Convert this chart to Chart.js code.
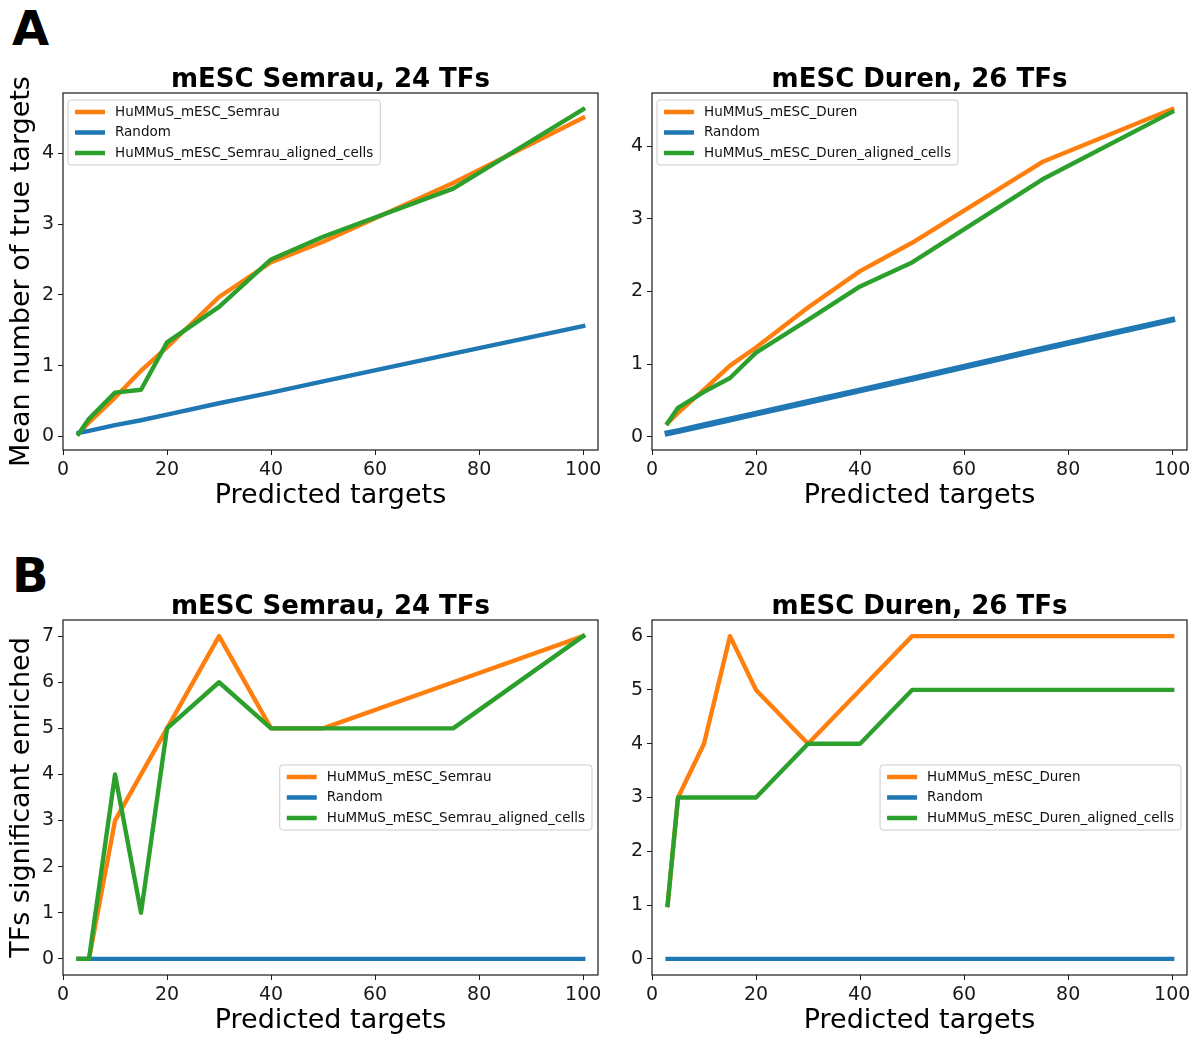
<!DOCTYPE html>
<html>
<head>
<meta charset="utf-8">
<script src="https://cdn.jsdelivr.net/npm/chart.js@4.4.0/dist/chart.umd.min.js"></script>
<style>
  html, body { margin: 0; padding: 0; background: #fff; }
  #fig { position: relative; width: 1201px; height: 1037px; overflow: hidden; font-family: "DejaVu Sans", sans-serif; }
  #fig canvas { position: absolute; }
  .letter { position: absolute; font-weight: bold; font-size: 48px; line-height: 1; color: #000; }
</style>
</head>
<body>
<div id="fig">
  <div class="letter" style="left:12px; top:4px">A</div>
  <div class="letter" style="left:12px; top:551px">B</div>
  <canvas id="aSemrau"></canvas>
  <canvas id="aDuren"></canvas>
  <canvas id="bSemrau"></canvas>
  <canvas id="bDuren"></canvas>
</div>
<script>
// number of predicted targets (x)
const targets = [3, 5, 10, 15, 20, 30, 40, 50, 75, 100];
const xTickValues = [0, 20, 40, 60, 80, 100];

// A: mean number of true targets
const meanSemrauHummus  = [0.04, 0.20, 0.55, 0.93, 1.26, 1.97, 2.46, 2.75, 3.58, 4.50];
const meanSemrauRandom  = [0.05, 0.08, 0.16, 0.23, 0.31, 0.47, 0.62, 0.78, 1.17, 1.56];
const meanSemrauAligned = [0.04, 0.25, 0.62, 0.66, 1.33, 1.83, 2.50, 2.82, 3.50, 4.62];
const meanDurenHummus   = [0.19, 0.33, 0.65, 0.98, 1.23, 1.78, 2.28, 2.67, 3.78, 4.51];
const meanDurenRandom   = [0.05, 0.08, 0.16, 0.24, 0.32, 0.48, 0.64, 0.80, 1.21, 1.61];
const meanDurenAligned  = [0.19, 0.40, 0.62, 0.81, 1.16, 1.61, 2.07, 2.40, 3.54, 4.47];
const meanTicks = [0, 1, 2, 3, 4];

// B: TFs significantly enriched
const sigSemrauHummus  = [0, 0, 3, 4, 5, 7, 5, 5, 6, 7];
const sigSemrauRandom  = [0, 0, 0, 0, 0, 0, 0, 0, 0, 0];
const sigSemrauAligned = [0, 0, 4, 1, 5, 6, 5, 5, 5, 7];
const sigDurenHummus   = [1, 3, 4, 6, 5, 4, 5, 6, 6, 6];
const sigDurenRandom   = [0, 0, 0, 0, 0, 0, 0, 0, 0, 0];
const sigDurenAligned  = [1, 3, 3, 3, 3, 4, 4, 5, 5, 5];
const sigSemrauTicks = [0, 1, 2, 3, 4, 5, 6, 7];
const sigDurenTicks = [0, 1, 2, 3, 4, 5, 6];

const semrauNames = ["HuMMuS_mESC_Semrau", "Random", "HuMMuS_mESC_Semrau_aligned_cells"];
const durenNames = ["HuMMuS_mESC_Duren", "Random", "HuMMuS_mESC_Duren_aligned_cells"];

const FONT = '"DejaVu Sans", sans-serif';
const INK = "#1a1a1a";
const ORANGE = "#ff7f0e", BLUE = "#1f77b4", GREEN = "#2ca02c";
const TITLE_BLOCK = 42;   // title height above the axes box
const X_AXIS_H = 62;      // tick labels + axis title below the box

const xy = (vals) => targets.map((x, i) => ({ x, y: vals[i] }));

// frame on all four sides, then a matplotlib-like legend inside the axes
function overlay(where) {
  return {
    id: "overlay",
    afterDatasetsDraw(chart) {
      const { ctx, chartArea: a } = chart;
      const sets = chart.data.datasets;
      ctx.save();
      ctx.strokeStyle = INK;
      ctx.lineWidth = 1.2;
      ctx.strokeRect(a.left, a.top, a.right - a.left, a.bottom - a.top);

      ctx.font = "13.5px " + FONT;
      const textW = Math.max(...sets.map(d => ctx.measureText(d.label).width));
      const w = 7 + 30 + 10 + textW + 7;
      const h = 24 + 20.5 * (sets.length - 1);
      const x = where === "upperLeft" ? a.left + 5 : a.right - 6 - w;
      const y = where === "upperLeft" ? a.top + 7 : (a.top + a.bottom) / 2 - h / 2;
      ctx.beginPath();
      ctx.roundRect(x, y, w, h, 3);
      ctx.fillStyle = "rgba(255,255,255,0.8)";
      ctx.fill();
      ctx.strokeStyle = "#cccccc";
      ctx.lineWidth = 1;
      ctx.stroke();
      sets.forEach((d, i) => {
        const cy = y + 12 + i * 20.5;
        ctx.strokeStyle = d.borderColor;
        ctx.lineWidth = 4.5;
        ctx.beginPath();
        ctx.moveTo(x + 7, cy);
        ctx.lineTo(x + 37, cy);
        ctx.stroke();
        ctx.fillStyle = "#111";
        ctx.textBaseline = "middle";
        ctx.fillText(d.label, x + 47, cy);
      });
      ctx.restore();
    }
  };
}

function panel(id, cfg) {
  const canvas = document.getElementById(id);
  const left = cfg.box.left - cfg.yAxisW;
  const top = cfg.box.top - TITLE_BLOCK;
  canvas.width = cfg.box.right + cfg.padRight - left;
  canvas.height = cfg.box.bottom + X_AXIS_H - top;
  canvas.style.left = left + "px";
  canvas.style.top = top + "px";

  const tickStyle = { font: { family: FONT, size: 19 }, color: INK, padding: 4, maxRotation: 0 };
  const gridStyle = { drawOnChartArea: false, drawTicks: true, tickLength: 5, color: INK };

  return new Chart(canvas, {
    type: "line",
    data: {
      datasets: [
        { label: cfg.names[0], data: xy(cfg.series[0]), borderColor: ORANGE, order: 3 },
        { label: cfg.names[1], data: xy(cfg.series[1]), borderColor: BLUE, order: 2, borderWidth: cfg.randomWidth || 4.4 },
        { label: cfg.names[2], data: xy(cfg.series[2]), borderColor: GREEN, order: 1 }
      ]
    },
    options: {
      responsive: false,
      animation: false,
      devicePixelRatio: 1,
      layout: { padding: { left: 0, top: 0, right: cfg.padRight, bottom: 0 } },
      elements: {
        line: { borderWidth: 4.4, tension: 0, borderJoinStyle: "round", borderCapStyle: "square", fill: false },
        point: { radius: 0, hoverRadius: 0 }
      },
      plugins: {
        legend: { display: false },
        tooltip: { enabled: false },
        title: {
          display: true,
          text: cfg.title,
          fullSize: false,
          color: "#000",
          font: { family: FONT, size: 26, weight: "bold", lineHeight: 1 },
          padding: { top: TITLE_BLOCK - 26, bottom: 0 }
        }
      },
      scales: {
        x: {
          type: "linear",
          min: 0,
          max: 102.85,
          afterBuildTicks: s => { s.ticks = xTickValues.map(v => ({ value: v })); },
          afterFit: s => { s.height = X_AXIS_H; },
          grid: gridStyle,
          border: { display: false },
          ticks: tickStyle,
          title: { display: true, text: "Predicted targets", color: "#000", font: { family: FONT, size: 27 }, padding: 0 }
        },
        y: {
          type: "linear",
          min: cfg.yMin,
          max: cfg.yMax,
          afterBuildTicks: s => { s.ticks = cfg.yTicks.map(v => ({ value: v })); },
          afterFit: s => { s.width = cfg.yAxisW; },
          grid: gridStyle,
          border: { display: false },
          ticks: tickStyle,
          title: {
            display: !!cfg.yTitle,
            text: cfg.yTitle || "",
            color: "#000",
            font: { family: FONT, size: 27 },
            padding: { top: 6, bottom: 0 }
          }
        }
      }
    },
    plugins: [overlay(cfg.legend)]
  });
}

panel("aSemrau", {
  title: "mESC Semrau, 24 TFs",
  names: semrauNames,
  series: [meanSemrauHummus, meanSemrauRandom, meanSemrauAligned],
  box: { left: 63, top: 93, right: 598, bottom: 450 },
  yAxisW: 63, padRight: 20,
  yMin: -0.19, yMax: 4.85, yTicks: meanTicks,
  yTitle: "Mean number of true targets",
  legend: "upperLeft"
});

panel("aDuren", {
  title: "mESC Duren, 26 TFs",
  names: durenNames,
  series: [meanDurenHummus, meanDurenRandom, meanDurenAligned],
  box: { left: 652, top: 93, right: 1187, bottom: 450 },
  yAxisW: 52, padRight: 14,
  yMin: -0.18, yMax: 4.73, yTicks: meanTicks,
  randomWidth: 6,
  legend: "upperLeft"
});

panel("bSemrau", {
  title: "mESC Semrau, 24 TFs",
  names: semrauNames,
  series: [sigSemrauHummus, sigSemrauRandom, sigSemrauAligned],
  box: { left: 63, top: 620, right: 598, bottom: 975 },
  yAxisW: 63, padRight: 20,
  yMin: -0.35, yMax: 7.35, yTicks: sigSemrauTicks,
  yTitle: "TFs significant enriched",
  legend: "centerRight"
});

panel("bDuren", {
  title: "mESC Duren, 26 TFs",
  names: durenNames,
  series: [sigDurenHummus, sigDurenRandom, sigDurenAligned],
  box: { left: 652, top: 620, right: 1187, bottom: 975 },
  yAxisW: 52, padRight: 14,
  yMin: -0.3, yMax: 6.3, yTicks: sigDurenTicks,
  legend: "centerRight"
});
</script>
</body>
</html>
